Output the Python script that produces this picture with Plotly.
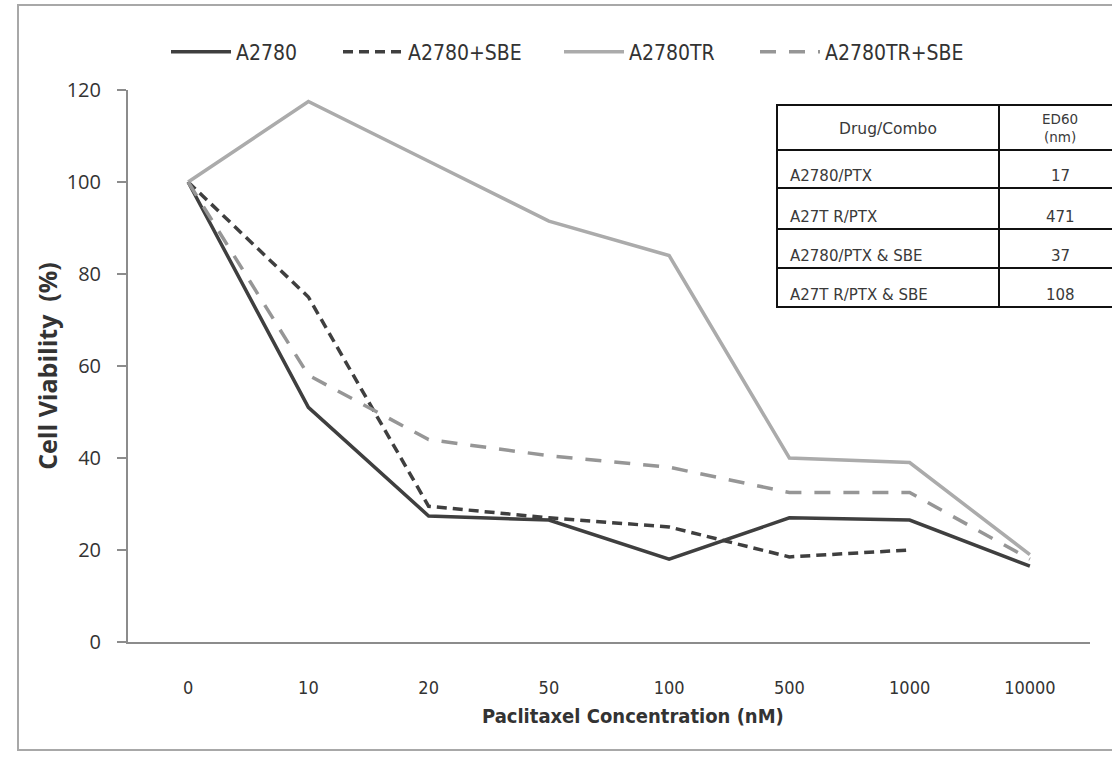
import plotly.graph_objects as go

# ---------------- data ----------------
concentrations = ["0", "10", "20", "50", "100", "500", "1000", "10000"]
a2780 = [100, 51, 27.4, 26.5, 18, 27, 26.5, 16.5]
a2780_sbe = [100, 75, 29.5, 27, 25, 18.5, 20, None]
a2780tr = [100, 117.5, 104.5, 91.5, 84, 40, 39, 19]
a2780tr_sbe = [100, 58, 44, 40.5, 38, 32.5, 32.5, 18]

table_header = ["Drug/Combo", "ED60<br>(nm)"]
table_drugs = ["A2780/PTX", "A27T R/PTX", "A2780/PTX &amp; SBE", "A27T R/PTX &amp; SBE"]
table_ed60 = ["17", "471", "37", "108"]

# ---------------- layout geometry (pixels) ----------------
W, H = 1112, 757
PL, PR, PT, PB = 128, 1090, 90, 642  # plot area in pixels


def px(x):
    return (x - PL) / (PR - PL)


def py(y):
    return (PB - y) / (PB - PT)


dark = "#3f3f3f"
light = "#ababab"
mid = "#969696"
cond = "Liberation Sans Narrow, DejaVu Sans Condensed, Open Sans, sans-serif"

fig = go.Figure()
fig.add_trace(go.Scatter(x=concentrations, y=a2780, name="A2780", mode="lines",
                         line=dict(color=dark, width=3.5), legend="legend"))
fig.add_trace(go.Scatter(x=concentrations, y=a2780_sbe, name="A2780+SBE", mode="lines",
                         line=dict(color=dark, width=3.5, dash="10px,6px"), legend="legend2"))
fig.add_trace(go.Scatter(x=concentrations, y=a2780tr, name="A2780TR", mode="lines",
                         line=dict(color=light, width=3.5), legend="legend3"))
fig.add_trace(go.Scatter(x=concentrations, y=a2780tr_sbe, name="A2780TR+SBE", mode="lines",
                         line=dict(color=mid, width=3.5, dash="16px,13px"), legend="legend4"))


def leg(xpix):
    return dict(orientation="h", x=px(xpix), y=py(52), xanchor="left", yanchor="middle",
                font=dict(family=cond, size=21, color="#333"),
                itemwidth=60, bgcolor="rgba(0,0,0,0)")


shapes = []
annotations = []

# outer frame
shapes.append(dict(type="rect", xref="paper", yref="paper",
                   x0=px(18), x1=px(1125), y0=py(750), y1=py(5),
                   line=dict(color="#a8a8a8", width=2), layer="below"))

# table
tL, tM, tR = 777, 999, 1121
rows = [105, 150, 188, 229, 268, 307]
shapes.append(dict(type="rect", xref="paper", yref="paper",
                   x0=px(tL), x1=px(tR), y0=py(rows[-1]), y1=py(rows[0]),
                   fillcolor="white", line=dict(color="#111", width=2), layer="above"))
for r in rows[1:-1]:
    shapes.append(dict(type="line", xref="paper", yref="paper",
                       x0=px(tL), x1=px(tR), y0=py(r), y1=py(r),
                       line=dict(color="#111", width=2), layer="above"))
shapes.append(dict(type="line", xref="paper", yref="paper",
                   x0=px(tM), x1=px(tM), y0=py(rows[-1]), y1=py(rows[0]),
                   line=dict(color="#111", width=2), layer="above"))

tfont = dict(family="DejaVu Sans, Verdana, sans-serif", size=15, color="#3a3a3a")
annotations.append(dict(x=px((tL + tM) / 2), y=py(129), xref="paper", yref="paper",
                        text=table_header[0], showarrow=False,
                        font=dict(family="DejaVu Sans, Verdana, sans-serif", size=15.5, color="#3a3a3a"),
                        xanchor="center", yanchor="middle"))
annotations.append(dict(x=px(1060), y=py(128), xref="paper", yref="paper",
                        text=table_header[1], showarrow=False,
                        font=dict(family="DejaVu Sans, Verdana, sans-serif", size=13.5, color="#3a3a3a"),
                        xanchor="center", yanchor="middle"))
for i, (d, v) in enumerate(zip(table_drugs, table_ed60)):
    yb = rows[i + 2] - 1
    annotations.append(dict(x=px(788), y=py(yb), xref="paper", yref="paper",
                            text=d, showarrow=False, font=tfont,
                            xanchor="left", yanchor="bottom"))
    annotations.append(dict(x=px(1060), y=py(yb), xref="paper", yref="paper",
                            text=v, showarrow=False, font=tfont,
                            xanchor="center", yanchor="bottom"))

# x axis title (offset to the right of the plot centre, as in the source)
annotations.append(dict(x=px(633), y=py(716), xref="paper", yref="paper",
                        text="<b>Paclitaxel Concentration (nM)</b>", showarrow=False,
                        font=dict(family=cond, size=20, color="#333"),
                        xanchor="center", yanchor="middle"))

fig.update_layout(
    width=W, height=H,
    margin=dict(l=PL, r=W - PR, t=PT, b=H - PB),
    paper_bgcolor="white", plot_bgcolor="white",
    showlegend=True,
    legend=leg(166), legend2=leg(338), legend3=leg(559), legend4=leg(755),
    xaxis=dict(type="category", range=[-0.5, 7.5], showgrid=False, zeroline=False,
               showline=True, linecolor="#8c8c8c", linewidth=2, ticks="",
               tickfont=dict(family=cond, size=18, color="#333"), ticklabelstandoff=28),
    yaxis=dict(range=[0, 120], dtick=20, showgrid=False, zeroline=False,
               showline=True, linecolor="#8c8c8c", linewidth=2, ticks="outside",
               ticklen=9, tickcolor="#8c8c8c", tickwidth=1.5, ticklabelstandoff=12,
               tickfont=dict(family="Open Sans, sans-serif", size=20, color="#333"),
               title=dict(text="<b>Cell Viability  (%)</b>",
                          font=dict(family="Open Sans, sans-serif", size=25, color="#333"),
                          standoff=2)),
    shapes=shapes,
    annotations=annotations,
)

fig.write_html("out.html", config={"displayModeBar": False},
               post_script="document.body.style.margin='0px';")
